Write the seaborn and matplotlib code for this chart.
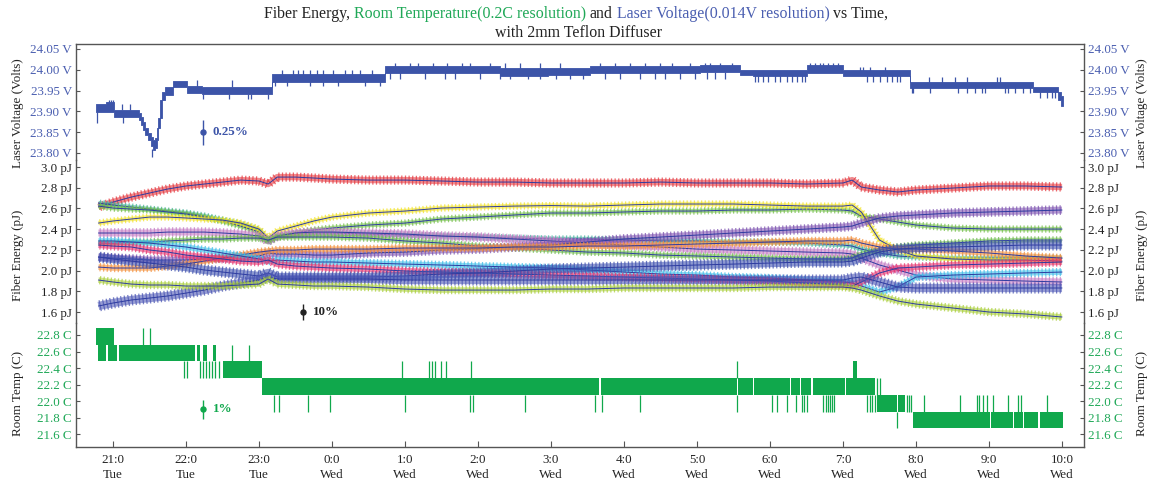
import matplotlib
matplotlib.use("Agg")
import matplotlib.pyplot as plt
import matplotlib.patheffects as pe
from matplotlib.ticker import StrMethodFormatter
import seaborn as sns

sns.set_theme(style="white")
plt.rcParams["font.family"] = ["Liberation Serif", "DejaVu Serif"]

# ---------------------------------------------------------------- data
# time axis: hours relative to Wednesday 0:00
tick_hours = [-3, -2, -1, 0, 1, 2, 3, 4, 5, 6, 7, 8, 9, 10]
tick_labels = ["21:0\nTue", "22:0\nTue", "23:0\nTue", "0:0\nWed", "1:0\nWed",
               "2:0\nWed", "3:0\nWed", "4:0\nWed", "5:0\nWed", "6:0\nWed",
               "7:0\nWed", "8:0\nWed", "9:0\nWed", "10:0\nWed"]

volt_ticks = [23.80, 23.85, 23.90, 23.95, 24.00, 24.05]
energy_ticks = [1.6, 1.8, 2.0, 2.2, 2.4, 2.6, 2.8, 3.0]
temp_ticks = [21.6, 21.8, 22.0, 22.2, 22.4, 22.6, 22.8]

# laser voltage: envelope of the quantised reading (step-wise)
volt_hours = [-3.233, -3.096, -2.986, -2.644, -2.616, -2.589, -2.555, -2.521, -2.479,
              -2.452, -2.425, -2.397, -2.377, -2.356, -2.329, -2.288, -2.178, -1.986,
              -1.781, -0.822, 0.726, 2.301, 2.959, 3.534, 5.041, 5.589, 5.767, 6.507,
              7.000, 7.918, 9.603, 9.945, 9.986, 10.014]
volt_high = [23.918, 23.922, 23.903, 23.896, 23.887, 23.875, 23.860, 23.848, 23.838,
             23.831, 23.836, 23.860, 23.884, 23.927, 23.947, 23.959, 23.973, 23.961,
             23.959, 23.990, 24.009, 24.004, 24.005, 24.009, 24.012, 24.000, 24.000,
             24.012, 24.000, 23.971, 23.959, 23.947, 23.937, 23.937]
volt_low = [23.899, 23.899, 23.887, 23.879, 23.867, 23.855, 23.843, 23.831, 23.817,
            23.807, 23.812, 23.831, 23.860, 23.884, 23.927, 23.939, 23.959, 23.944,
            23.942, 23.971, 23.992, 23.986, 23.988, 23.992, 23.995, 23.988, 23.985,
            23.992, 23.985, 23.956, 23.947, 23.927, 23.913, 23.913]

# isolated voltage excursions: (hours, low, high)
volt_spikes = [
    ([-3.219, -2.863], 23.872, 23.899),
    ([-3.06, -3.03, -3.00], 23.910, 23.927),
    ([-2.877, -2.767], 23.903, 23.918),
    ([-2.466], 23.790, 23.810),
    ([-1.849, -1.370], 23.959, 23.975),
    ([-1.767, -1.411, -1.151, -1.110, -0.877], 23.930, 23.942),
    ([-0.685, -0.534, -0.466, -0.397, -0.301, -0.205, -0.123, 0.014, 0.178, 0.274,
      0.384, 0.548], 23.985, 24.000),
    ([-0.781, -0.616, -0.301, -0.123, 0.082, 0.452, 0.658], 23.961, 23.975),
    ([0.863, 1.068, 1.178, 1.384, 1.575, 1.781, 1.890, 2.164, 2.370, 2.575, 2.849,
      3.123, 3.671, 3.877, 4.082, 4.288, 4.493, 4.658, 4.904, 5.110, 5.178, 5.315,
      5.479, 6.548, 6.616, 6.685, 6.726, 6.795, 6.863, 6.932], 24.000, 24.016),
    ([0.795, 0.932, 1.274, 1.548, 1.685, 2.027, 2.301, 2.438, 2.685, 2.849, 3.068,
      3.260, 3.438, 3.740, 3.945, 4.219, 4.425, 4.562, 4.767, 4.973, 5.137, 5.247,
      5.384], 23.978, 23.995),
    ([5.795, 5.836, 5.904, 5.973, 6.068, 6.137, 6.233, 6.301, 6.370, 6.438, 6.479,
      7.329, 7.411, 7.507, 7.603, 7.671, 7.740, 7.781], 23.971, 23.990),
    ([7.233, 7.274, 7.370, 7.575], 23.995, 24.007),
    ([8.178, 8.356, 8.534, 8.699, 9.110, 9.151], 23.965, 23.983),
    ([7.945, 7.959, 8.192, 8.575, 8.699, 8.808, 8.904, 8.945, 9.219, 9.260, 9.356,
      9.466, 9.562], 23.944, 23.960),
    ([9.699, 9.795, 9.863, 9.904], 23.932, 23.950),
]

# room temperature: spans where the sensor toggles between two adjacent levels
temp_start = [-3.233, -3.205, -3.068, -2.918, -1.849, -1.767, -1.630, -1.493,
              -0.959, -0.432, 0.527, 1.212, 3.678, 5.555, 5.774, 6.281, 6.418,
              6.582, 6.664, 7.034, 7.137, 7.466, 7.747, 7.959, 8.705, 9.021,
              9.336, 9.473, 9.699]
temp_end = [-2.986, -3.096, -2.945, -1.877, -1.808, -1.712, -1.589, -0.959,
            -0.445, 0.514, 1.199, 3.664, 5.541, 5.760, 6.267, 6.404, 6.568,
            6.651, 7.021, 7.438, 7.192, 7.733, 7.849, 8.692, 9.007, 9.322,
            9.459, 9.671, 10.014]
temp_low = [22.68, 22.48, 22.48, 22.48, 22.48, 22.48, 22.48, 22.28,
            22.08, 22.08, 22.08, 22.08, 22.08, 22.08, 22.08, 22.08, 22.08,
            22.08, 22.08, 22.08, 22.28, 21.87, 21.87, 21.68, 21.68, 21.68,
            21.68, 21.68, 21.68]
temp_high = [22.88, 22.68, 22.68, 22.68, 22.68, 22.68, 22.68, 22.48,
             22.28, 22.28, 22.28, 22.28, 22.28, 22.28, 22.28, 22.28, 22.28,
             22.28, 22.28, 22.28, 22.48, 22.08, 22.08, 21.87, 21.87, 21.87,
             21.87, 21.87, 21.87]

# single-sample temperature jumps: (hours, low, high)
temp_spikes = [
    ([-2.589, -2.493], 22.68, 22.88),
    ([-2.027, -1.986, -1.808, -1.767, -1.726, -1.685, -1.644, -1.603, -1.548], 22.28, 22.48),
    ([-1.370, -1.137], 22.48, 22.68),
    ([-0.795, -0.726, -0.329, -0.027, 1.000, 1.890, 1.932, 2.644, 3.603, 3.699, 4.219,
      5.548, 6.027, 6.096, 6.233, 6.356, 6.438, 6.466, 6.507, 6.726, 6.767, 6.795,
      6.822, 6.849, 6.877, 7.329, 7.370, 7.397, 7.438], 21.87, 22.08),
    ([0.959, 1.329, 1.370, 1.411, 1.493, 1.562, 1.904, 5.548], 22.28, 22.48),
    ([7.466, 7.507], 22.08, 22.28),
    ([7.740], 21.68, 21.87),
    ([7.877, 7.904, 7.932, 8.110, 8.603, 8.836, 8.863, 8.918, 8.973, 9.055, 9.260,
      9.397, 9.438, 9.795], 21.87, 22.08),
]

# fibre energies (pJ) sampled on a common time grid
energy_hours = [-3.2, -3.0, -2.75, -2.5, -2.25, -2.0, -1.75, -1.5, -1.25, -1.0, -0.875,
                -0.75, -0.5, -0.25, 0.0, 0.5, 1.0, 1.5, 2.0, 2.5, 3.0, 3.5, 4.0, 4.5,
                5.0, 5.5, 6.0, 6.5, 7.0, 7.125, 7.25, 7.5, 7.75, 8.0, 8.5, 9.0, 9.5, 10.0]

fiber_red = [2.614, 2.662, 2.710, 2.749, 2.788, 2.817, 2.836, 2.855, 2.874, 2.865, 2.836,
             2.903, 2.903, 2.894, 2.884, 2.874, 2.874, 2.865, 2.855, 2.855, 2.846, 2.846,
             2.846, 2.855, 2.846, 2.846, 2.846, 2.836, 2.846, 2.874, 2.807, 2.778, 2.759,
             2.778, 2.797, 2.817, 2.817, 2.807]
fiber_teal = [2.652, 2.633, 2.614, 2.594, 2.575, 2.556, 2.527, 2.488, 2.450, 2.392, 2.276,
              2.334, 2.353, 2.363, 2.363, 2.353, 2.343, 2.334, 2.324, 2.314, 2.305, 2.305,
              2.295, 2.286, 2.286, 2.276, 2.276, 2.266, 2.247, 2.237, 2.208, 2.170, 2.141,
              2.131, 2.121, 2.121, 2.121, 2.121]
fiber_green = [2.623, 2.604, 2.594, 2.585, 2.566, 2.546, 2.517, 2.479, 2.430, 2.372, 2.276,
               2.324, 2.363, 2.392, 2.411, 2.440, 2.459, 2.498, 2.517, 2.537, 2.556, 2.556,
               2.566, 2.575, 2.575, 2.585, 2.585, 2.594, 2.585, 2.575, 2.527, 2.498, 2.469,
               2.440, 2.411, 2.401, 2.401, 2.401]
fiber_yellow = [2.459, 2.479, 2.498, 2.517, 2.517, 2.508, 2.498, 2.488, 2.459, 2.401, 2.314,
                2.382, 2.430, 2.479, 2.517, 2.556, 2.575, 2.604, 2.614, 2.623, 2.628, 2.623,
                2.633, 2.643, 2.643, 2.643, 2.633, 2.623, 2.623, 2.633, 2.566, 2.295, 2.199,
                2.141, 2.112, 2.102, 2.102, 2.092]
fiber_mauve = [2.363, 2.363, 2.363, 2.363, 2.372, 2.372, 2.372, 2.363, 2.353, 2.334, 2.286,
               2.334, 2.363, 2.372, 2.372, 2.363, 2.353, 2.334, 2.324, 2.305, 2.286, 2.266,
               2.247, 2.228, 2.208, 2.199, 2.189, 2.179, 2.170, 2.160, 2.121, 2.054, 2.006,
               1.957, 1.919, 1.909, 1.899, 1.890]
fiber_lightgreen = [2.266, 2.266, 2.276, 2.276, 2.286, 2.295, 2.305, 2.305, 2.314, 2.314, 2.295,
                    2.324, 2.324, 2.324, 2.324, 2.314, 2.286, 2.266, 2.237, 2.218, 2.199, 2.179,
                    2.170, 2.150, 2.141, 2.131, 2.121, 2.112, 2.112, 2.121, 2.160, 2.199, 2.228,
                    2.247, 2.266, 2.286, 2.295, 2.295]
fiber_purple = [2.131, 2.121, 2.112, 2.102, 2.102, 2.102, 2.112, 2.121, 2.131, 2.141, 2.170,
                2.160, 2.160, 2.150, 2.150, 2.170, 2.179, 2.199, 2.208, 2.228, 2.247, 2.276,
                2.305, 2.324, 2.343, 2.363, 2.382, 2.401, 2.421, 2.430, 2.459, 2.508, 2.527,
                2.537, 2.556, 2.566, 2.575, 2.585]
fiber_orange = [2.034, 2.025, 2.025, 2.025, 2.044, 2.063, 2.092, 2.121, 2.150, 2.179, 2.189,
                2.199, 2.199, 2.208, 2.208, 2.208, 2.218, 2.218, 2.218, 2.228, 2.228, 2.237,
                2.237, 2.247, 2.257, 2.266, 2.276, 2.286, 2.286, 2.295, 2.266, 2.228, 2.208,
                2.208, 2.189, 2.170, 2.141, 2.121]
fiber_cyan = [2.286, 2.286, 2.276, 2.266, 2.247, 2.228, 2.199, 2.170, 2.141, 2.112, 2.092,
              2.102, 2.092, 2.083, 2.083, 2.073, 2.063, 2.054, 2.044, 2.034, 2.025, 2.006,
              1.986, 1.967, 1.957, 1.938, 1.928, 1.909, 1.890, 1.880, 1.851, 1.793, 1.842,
              1.938, 1.957, 1.967, 1.977, 1.986]
fiber_crimson = [2.247, 2.237, 2.228, 2.199, 2.179, 2.150, 2.131, 2.112, 2.092, 2.083, 2.102,
                 2.063, 2.044, 2.034, 2.025, 2.015, 1.996, 1.986, 1.977, 1.967, 1.957, 1.948,
                 1.938, 1.928, 1.919, 1.909, 1.899, 1.880, 1.861, 1.851, 1.890, 1.977, 2.025,
                 2.034, 2.054, 2.063, 2.073, 2.083]
fiber_navy = [2.131, 2.112, 2.092, 2.073, 2.054, 2.034, 2.006, 1.986, 1.967, 1.948, 1.977,
              1.938, 1.938, 1.938, 1.938, 1.938, 1.948, 1.967, 1.977, 1.996, 2.015, 2.025,
              2.034, 2.044, 2.054, 2.063, 2.073, 2.083, 2.083, 2.092, 2.121, 2.179, 2.208,
              2.218, 2.228, 2.237, 2.247, 2.247]
fiber_indigo = [1.658, 1.687, 1.716, 1.735, 1.755, 1.783, 1.812, 1.851, 1.880, 1.909, 1.938,
                1.919, 1.919, 1.919, 1.919, 1.919, 1.909, 1.909, 1.909, 1.909, 1.909, 1.909,
                1.909, 1.909, 1.909, 1.909, 1.909, 1.909, 1.909, 1.928, 1.938, 1.890, 1.841,
                1.832, 1.832, 1.832, 1.832, 1.832]
fiber_lime = [1.909, 1.890, 1.870, 1.861, 1.861, 1.851, 1.851, 1.851, 1.861, 1.870, 1.919,
              1.870, 1.861, 1.851, 1.851, 1.841, 1.822, 1.812, 1.812, 1.812, 1.822, 1.822,
              1.832, 1.832, 1.832, 1.832, 1.841, 1.841, 1.841, 1.832, 1.812, 1.755, 1.706,
              1.677, 1.639, 1.600, 1.581, 1.552]

# relative-scale markers: (hour, value, fraction, label)
volt_scale = (-1.767, 23.85, 0.0025, "0.25%")
energy_scale = (-0.397, 1.60, 0.10, "10%")
temp_scale = (-1.767, 21.90, 0.01, "1%")

# ---------------------------------------------------------------- styling
INK = "#222222"
FRAME = "#555555"
VOLT_BLUE = "#3c54a8"
VOLT_TEXT = "#4a5eb0"
TEMP_GREEN = "#10a84c"
TEMP_TEXT = "#1fa857"
CENTER = "#2e3ca0"
FS = 9.4

# (values, band colour, band width in points)
fiber_series = [
    (fiber_red, "#e5383f", 4.6),
    (fiber_teal, "#45b3a0", 3.2),
    (fiber_green, "#74c04a", 3.2),
    (fiber_yellow, "#f2e32a", 3.2),
    (fiber_mauve, "#c47bc4", 5.0),
    (fiber_lightgreen, "#6dbb4c", 3.4),
    (fiber_purple, "#7d52b0", 5.0),
    (fiber_orange, "#f4903c", 4.0),
    (fiber_cyan, "#3ebde8", 4.0),
    (fiber_crimson, "#e6336f", 4.4),
    (fiber_navy, "#3d4fae", 6.0),
    (fiber_indigo, "#4a55b4", 6.0),
    (fiber_lime, "#aacf3a", 4.0),
]

W, H = 1149, 483
fig = plt.figure(figsize=(W / 100, H / 100), dpi=100)
fig.patch.set_facecolor("white")


def frac_box(x0, y0, x1, y1):
    return [x0 / W, 1 - y1 / H, (x1 - x0) / W, (y1 - y0) / H]


ax_v = fig.add_axes(frac_box(76, 44, 1084, 160))
ax_e = fig.add_axes(frac_box(76, 160, 1084, 323))
ax_t = fig.add_axes(frac_box(76, 323, 1084, 447))

XLIM = (-3.507, 10.301)
for ax in (ax_v, ax_e, ax_t):
    ax.set_xlim(*XLIM)
    ax.set_facecolor("none")
    for side in ("left", "right", "top", "bottom"):
        ax.spines[side].set_color(FRAME)
        ax.spines[side].set_linewidth(1.0)
    ax.tick_params(axis="y", which="both", left=True, right=True, labelleft=True,
                   labelright=True, direction="in", length=3, width=0.8,
                   color=FRAME, pad=3, labelsize=FS)

ax_v.spines["bottom"].set_visible(False)
ax_e.spines["top"].set_visible(False)
ax_e.spines["bottom"].set_visible(False)
ax_t.spines["top"].set_visible(False)
for ax in (ax_v, ax_e):
    ax.tick_params(axis="x", bottom=False, labelbottom=False, top=False)

ax_v.set_ylim(23.783, 24.062)
ax_e.set_ylim(1.494, 3.068)
ax_t.set_ylim(21.4465, 22.945)

ax_v.set_yticks(volt_ticks)
ax_v.yaxis.set_major_formatter(StrMethodFormatter("{x:.2f} V"))
ax_v.tick_params(axis="y", labelcolor=VOLT_TEXT)
ax_e.set_yticks(energy_ticks)
ax_e.yaxis.set_major_formatter(StrMethodFormatter("{x:.1f} pJ"))
ax_e.tick_params(axis="y", labelcolor=INK)
ax_t.set_yticks(temp_ticks)
ax_t.yaxis.set_major_formatter(StrMethodFormatter("{x:.1f} C"))
ax_t.tick_params(axis="y", labelcolor=TEMP_TEXT)

ax_t.set_xticks(tick_hours)
ax_t.set_xticklabels(tick_labels, linespacing=1.3)
ax_t.tick_params(axis="x", bottom=True, direction="in", length=4, width=0.8,
                 color=FRAME, pad=5, labelsize=FS, labelcolor=INK)

# ---------------------------------------------------------------- laser voltage
ax_v.fill_between(volt_hours, volt_low, volt_high, step="post", color=VOLT_BLUE,
                  linewidth=0.6, edgecolor=VOLT_BLUE)
for hours, lo, hi in volt_spikes:
    ax_v.vlines(hours, lo, hi, color=VOLT_BLUE, linewidth=0.9)

# ---------------------------------------------------------------- room temperature
for h0, h1, lo, hi in zip(temp_start, temp_end, temp_low, temp_high):
    ax_t.fill_between([h0, h1], [lo, lo], [hi, hi], color=TEMP_GREEN, linewidth=0)
for hours, lo, hi in temp_spikes:
    ax_t.vlines(hours, lo, hi, color=TEMP_GREEN, linewidth=0.9)

# ---------------------------------------------------------------- fibre energies
SPACING = 2.6
for values, color, width in fiber_series:
    sns.lineplot(x=energy_hours, y=values, ax=ax_e, color=color, linewidth=width,
                 alpha=0.58, errorbar=None, solid_capstyle="butt",
                 solid_joinstyle="round")
    band = ax_e.lines[-1]
    tick_len = (width / 2 + 1.0) / SPACING
    band.set_path_effects([
        pe.Normal(),
        pe.TickedStroke(spacing=SPACING, angle=90, length=tick_len,
                        linewidth=0.9, foreground=color, alpha=0.75),
        pe.TickedStroke(spacing=SPACING, angle=-90, length=tick_len,
                        linewidth=0.9, foreground=color, alpha=0.75),
    ])
    sns.lineplot(x=energy_hours, y=values, ax=ax_e, color=CENTER, linewidth=0.7,
                 errorbar=None)

for ax in (ax_v, ax_e, ax_t):
    ax.set_xlabel("")
    ax.set_ylabel("")

# ---------------------------------------------------------------- scale markers
for ax, (hx, val, frac, text), col in ((ax_v, volt_scale, VOLT_BLUE),
                                        (ax_e, energy_scale, INK),
                                        (ax_t, temp_scale, TEMP_GREEN)):
    ax.errorbar([hx], [val], yerr=[val * frac / 2], fmt="o", color=col, ms=3.6,
                elinewidth=1.0, capsize=0)
    ax.annotate(text, (hx, val), xytext=(7, 0), textcoords="offset points",
                ha="left", va="center", fontsize=FS, fontweight="bold", color=col)

# ---------------------------------------------------------------- axis titles
side_labels = [("Laser Voltage (Volts)", 113), ("Fiber Energy (pJ)", 255),
               ("Room Temp (C)", 393)]
for text, yc in side_labels:
    fig.text(18 / W, 1 - yc / H, text, rotation=90, ha="center", va="center",
             fontsize=FS, color=INK)
    fig.text(1142 / W, 1 - yc / H, text, rotation=90, ha="center", va="center",
             fontsize=FS, color=INK)

# ---------------------------------------------------------------- title
TITLE_FS = 11.4
renderer = fig.canvas.get_renderer()
pieces = [("Fiber Energy,", INK), ("Room Temperature(0.2C resolution)", TEMP_TEXT),
          ("and", INK), ("Laser Voltage(0.014V resolution)", VOLT_TEXT),
          ("vs Time,", INK)]
probe_a = fig.text(0, 0, "a a", fontsize=TITLE_FS)
probe_b = fig.text(0, 0, "aa", fontsize=TITLE_FS)
space_w = (probe_a.get_window_extent(renderer).width
           - probe_b.get_window_extent(renderer).width)
probe_a.remove()
probe_b.remove()
line_y = 1 - 14 / H
texts = [fig.text(0, line_y, s, color=c, fontsize=TITLE_FS, ha="left", va="center")
         for s, c in pieces]
widths = [t.get_window_extent(renderer).width for t in texts]
total = sum(widths) + space_w * (len(widths) - 1)
x_px = 576 - total / 2
for t, w in zip(texts, widths):
    t.set_x(x_px / W)
    x_px += w + space_w
fig.text(579 / W, 1 - 33 / H, "with 2mm Teflon Diffuser", ha="center", va="center",
         fontsize=TITLE_FS, color=INK)

fig.savefig("out.png", dpi=100, facecolor="white")
